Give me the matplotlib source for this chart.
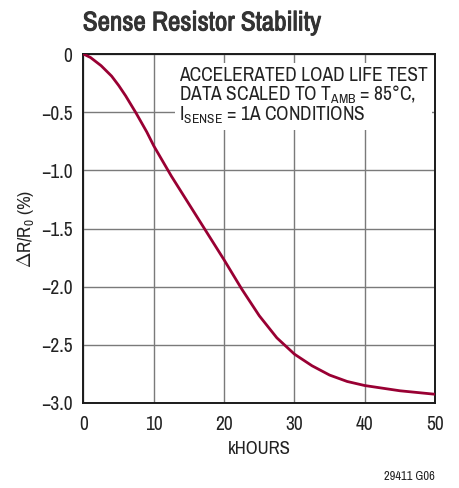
import numpy as np
from matplotlib import pyplot as plt
from matplotlib import font_manager
import matplotlib.patheffects as pe
import matplotlib

# prefer a narrow sans if one is installed, the reference uses a condensed face
fonts = font_manager.fontManager.ttflist
names = sorted({f.name for f in fonts})
narrow = [n for n in names if n == 'Liberation Sans Narrow']
narrow += [n for n in names if ('Narrow' in n or 'Condensed' in n) and n not in narrow]
family = narrow[:1] + ['Liberation Sans', 'DejaVu Sans']
has_bold = any(f.name == family[0] and f.weight in ('bold', 700) for f in fonts)

matplotlib.rcParams.update({
    'font.family': family,
    'mathtext.fontset': 'custom',
    'mathtext.rm': family[0],
    'axes.unicode_minus': True,
})

# data
khours = [0, 1, 2.5, 4, 5, 6, 7.5, 9, 10, 12.5, 15, 17.5, 20, 22.5, 25,
          27.5, 30, 32.5, 35, 37.5, 40, 45, 50]
drift = [0, -0.03, -0.10, -0.19, -0.27, -0.36, -0.51, -0.67, -0.79, -1.05,
         -1.29, -1.53, -1.77, -2.02, -2.25, -2.44, -2.58, -2.68, -2.76,
         -2.815, -2.85, -2.895, -2.925]

xticks = [0, 10, 20, 30, 40, 50]
yticks = [0, -0.5, -1.0, -1.5, -2.0, -2.5, -3.0]
ytick_labels = ["0", "\u22120.5", "\u22121.0", "\u22121.5", "\u22122.0",
                "\u22122.5", "\u22123.0"]

fig = plt.figure(figsize=(4.6, 4.88), dpi=100)
ax = fig.add_axes([0.1815, 0.1742, 0.7643, 0.7151])

ax.plot(khours, drift, color='#990033', lw=2.0, zorder=5)

ax.set_xlim(0, 50)
ax.set_ylim(-3.0, 0)
ax.set_xticks(xticks)
ax.set_yticks(yticks)
ax.set_yticklabels(ytick_labels)
ax.tick_params(axis='x', length=0, labelsize=14, pad=9, colors='#222222')
ax.tick_params(axis='y', length=0, labelsize=14, pad=8, colors='#222222')
ax.grid(True, color='#7a7a7a', lw=1.0)
ax.set_axisbelow(True)
for s in ax.spines.values():
    s.set_color('#1a1a1a')
    s.set_linewidth(1.4)

ax.set_xlabel("kHOURS", fontsize=13.5, color='#222222', labelpad=5)
ax.set_ylabel(r"$\Delta$R/R$_\mathregular{0}$ (%)", fontsize=13.5,
              color='#222222')
ax.yaxis.set_label_coords(-0.133, 0.5)

ax.text(13.6, -0.1,
        "ACCELERATED LOAD LIFE TEST\n"
        r"DATA SCALED TO T$_\mathregular{AMB}$ = 85°C," "\n"
        r"I$_\mathregular{SENSE}$ = 1A CONDITIONS",
        fontsize=14, color='#222222', va='top', ha='left',
        linespacing=0.92, zorder=3,
        bbox=dict(facecolor='white', edgecolor='none', pad=3))

title = fig.text(0.18, 0.953, "Sense Resistor Stability", fontsize=19.5,
                 fontweight='bold', color='#333333', ha='left', va='center')
if not has_bold:
    title.set_path_effects([pe.withStroke(linewidth=0.7, foreground='#333333')])
fig.text(0.945, 0.013, "29411 G06", fontsize=9, color='#222222',
         ha='right', va='bottom')

plt.savefig("out.png", dpi=100)
